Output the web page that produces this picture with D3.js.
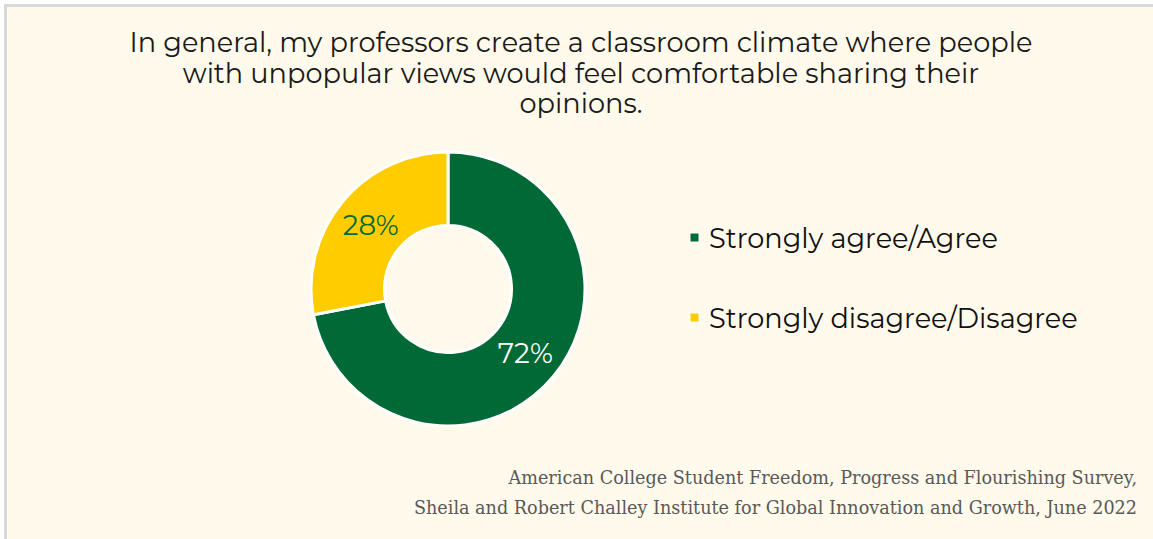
<!DOCTYPE html>
<html>
<head>
<meta charset="utf-8">
<script src="https://cdn.jsdelivr.net/npm/d3@7"></script>
<style>
  html, body { margin: 0; padding: 0; background: #ffffff; }
  svg { display: block; }
</style>
</head>
<body>
<svg id="chart" width="1153" height="539"></svg>
<script>
// Survey response shares
const categories = ["Strongly agree/Agree", "Strongly disagree/Disagree"];
const values = [72, 28];
const colors = ["#006935", "#FFCC00"];
const labelColors = ["#ffffff", "#006935"];

const titleLines = [
  "In general, my professors create a classroom climate where people",
  "with unpopular views would feel comfortable sharing their",
  "opinions."
];
const sourceLines = [
  "American College Student Freedom, Progress and Flourishing Survey,",
  "Sheila and Robert Challey Institute for Global Innovation and Growth, June 2022"
];

const W = 1153, H = 539;
const svg = d3.select("#chart");

// panel with a light border along the top and left edges
svg.append("rect")
  .attr("x", 5.5).attr("y", 5.5)
  .attr("width", W + 10).attr("height", H + 10)
  .attr("fill", "#FFFAEB")
  .attr("stroke", "#D9D9D9")
  .attr("stroke-width", 3);

// font size that makes a text element span the given width
function sizeFor(sel, width) {
  const fs = parseFloat(sel.attr("font-size"));
  const w = sel.node().getComputedTextLength();
  return w > 0 ? +(fs * width / w).toFixed(2) : fs;
}

const sansFont = "Montserrat, 'Open Sans', 'Noto Sans', sans-serif";
const serifFont = "'DejaVu Serif', 'Liberation Serif', serif";

// title
const titleY = [52, 83, 113];
const titleText = svg.selectAll("text.title")
  .data(titleLines)
  .join("text")
  .attr("class", "title")
  .attr("x", 581).attr("y", (d, i) => titleY[i])
  .attr("text-anchor", "middle")
  .attr("font-family", sansFont)
  .attr("font-size", 24)
  .attr("fill", "#1a1a1a")
  .text(d => d);
titleText.attr("font-size", sizeFor(titleText.filter((d, i) => i === 0), 903));

// donut
const cx = 448, cy = 289;
const outerR = 137, innerR = 63.5;
const pie = d3.pie().sort(null).value(d => d)(values);
const arc = d3.arc().innerRadius(innerR).outerRadius(outerR);
const g = svg.append("g").attr("transform", `translate(${cx},${cy})`);
g.selectAll("path.slice")
  .data(pie)
  .join("path")
  .attr("class", "slice")
  .attr("d", arc)
  .attr("fill", (d, i) => colors[i])
  .attr("stroke", "#ffffff")
  .attr("stroke-width", 3)
  .attr("stroke-linejoin", "round");

const pct = g.selectAll("text.pct")
  .data(pie)
  .join("text")
  .attr("class", "pct")
  .attr("transform", d => `translate(${arc.centroid(d)})`)
  .attr("dy", "0.36em")
  .attr("text-anchor", "middle")
  .attr("font-family", sansFont)
  .attr("font-size", 23)
  .attr("fill", (d, i) => labelColors[i])
  .text(d => d.data + "%");
pct.attr("font-size", sizeFor(pct.filter((d, i) => i === 1), 56));

// legend
const legY = [238, 318];
const legend = svg.append("g");
legend.selectAll("rect")
  .data(categories)
  .join("rect")
  .attr("x", 690).attr("y", (d, i) => legY[i] - 5)
  .attr("width", 9).attr("height", 9)
  .attr("fill", (d, i) => colors[i])
  .attr("stroke", "#ffffff")
  .attr("stroke-width", 1);
const legText = legend.selectAll("text")
  .data(categories)
  .join("text")
  .attr("x", 709).attr("y", (d, i) => legY[i])
  .attr("dy", "0.36em")
  .attr("font-family", sansFont)
  .attr("font-size", 23)
  .attr("fill", "#111111")
  .text(d => d);
legText.attr("font-size", sizeFor(legText.filter((d, i) => i === 0), 289));

// source note
const srcY = [484, 514];
const src = svg.selectAll("text.src")
  .data(sourceLines)
  .join("text")
  .attr("class", "src")
  .attr("x", 1137).attr("y", (d, i) => srcY[i])
  .attr("text-anchor", "end")
  .attr("font-family", serifFont)
  .attr("font-size", 17)
  .attr("fill", "#595959")
  .text(d => d);
src.attr("font-size", sizeFor(src.filter((d, i) => i === 1), 724));
</script>
</body>
</html>
